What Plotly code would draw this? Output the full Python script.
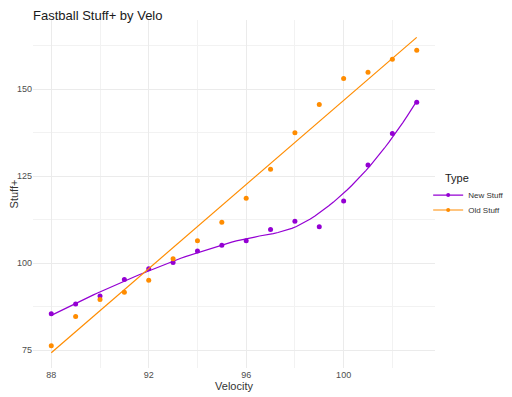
import numpy as np
import plotly.graph_objects as go

velocity = [88, 89, 90, 91, 92, 93, 94, 95, 96, 97, 98, 99, 100, 101, 102, 103]
new_stuff = [85.5, 88.3, 90.6, 95.3, 98.4, 100.2, 103.5, 105.2, 106.5, 109.7, 112.1, 110.5, 117.9, 128.2, 137.3, 146.3]
old_stuff = [76.3, 84.7, 89.6, 91.7, 95.1, 101.3, 106.5, 111.8, 118.7, 127.0, 137.5, 145.6, 153.1, 154.9, 158.6, 161.2]
x_ticks = [88, 92, 96, 100]
y_ticks = [75, 100, 125, 150]

PURPLE = "#9400D3"
ORANGE = "#FF8C00"


def loess(x, y, grid, span=0.75):
    x = np.asarray(x, float)
    y = np.asarray(y, float)
    n = len(x)
    q = int(np.floor(n * span))
    out = []
    for x0 in grid:
        d = np.abs(x - x0)
        h = np.sort(d)[q - 1]
        w = np.clip(1 - (d / h) ** 3, 0, None) ** 3
        X = np.vstack([np.ones(n), x - x0, (x - x0) ** 2]).T
        W = np.diag(w)
        beta = np.linalg.lstsq(X.T @ W @ X, X.T @ W @ y, rcond=None)[0]
        out.append(beta[0])
    return np.array(out)


grid = np.linspace(min(velocity), max(velocity), 80)
new_fit = loess(velocity, new_stuff, grid)
coef = np.polyfit(velocity, old_stuff, 1)
old_fit = np.polyval(coef, grid)

fig = go.Figure()
for name, vals, fit, col, leg in [("New Stuff", new_stuff, new_fit, PURPLE, "legend"),
                                  ("Old Stuff", old_stuff, old_fit, ORANGE, "legend2")]:
    fig.add_trace(go.Scatter(x=grid, y=fit, mode="lines", line=dict(color=col, width=1.2),
                             legendgroup=name, showlegend=False, hoverinfo="skip"))
    fig.add_trace(go.Scatter(x=velocity, y=vals, mode="markers",
                             marker=dict(color=col, size=5), legendgroup=name,
                             showlegend=False, name=name))
    fig.add_trace(go.Scatter(x=[None], y=[None], mode="lines+markers", name=name,
                             line=dict(color=col, width=1.2), marker=dict(color=col, size=4),
                             legendgroup=name, legend=leg))

axis_common = dict(
    showgrid=True, gridcolor="#EBEBEB", gridwidth=1, zeroline=False, showline=False,
    ticks="", automargin=False,
    tickfont=dict(size=9, color="#4D4D4D", family="Liberation Sans, Arial"),
)
fig.update_xaxes(range=[87.25, 103.75], tickvals=x_ticks,
                 minor=dict(tickvals=[90, 94, 98, 102], showgrid=True, gridcolor="#F2F2F2", gridwidth=1),
                 title=dict(text="Velocity", font=dict(size=11, color="#333333"), standoff=3),
                 **axis_common)
fig.update_yaxes(range=[69.9, 169.9], tickvals=y_ticks,
                 minor=dict(tickvals=[87.5, 112.5, 137.5, 162.5], showgrid=True, gridcolor="#F2F2F2", gridwidth=1),
                 title=dict(text="Stuff+", font=dict(size=11, color="#333333"), standoff=6),
                 **axis_common)

legend_common = dict(xanchor="left", yanchor="middle", font=dict(size=8, color="#333333"),
                     itemwidth=30, bgcolor="rgba(0,0,0,0)")

# page body has an 8px margin, so the figure is drawn 8px smaller and offset
fig.update_layout(
    width=504, height=389,
    margin=dict(l=25, r=77, t=12, b=29, autoexpand=False),
    paper_bgcolor="white", plot_bgcolor="white",
    font=dict(family="Liberation Sans, Arial", color="#1A1A1A"),
    title=dict(text="Fastball Stuff+ by Velo", x=25 / 504, xanchor="left",
               yref="container", y=1.0, yanchor="top", pad=dict(t=3),
               font=dict(size=13, color="#1A1A1A")),
    legend=dict(x=0.983, y=0.497, **legend_common),
    legend2=dict(x=0.983, y=0.454, **legend_common),
    annotations=[dict(text="Type", xref="paper", yref="paper", x=1.02, y=0.546,
                      xanchor="left", yanchor="middle", showarrow=False,
                      font=dict(size=11, color="#1A1A1A"))],
    showlegend=True,
)

fig.write_html("out.html")
